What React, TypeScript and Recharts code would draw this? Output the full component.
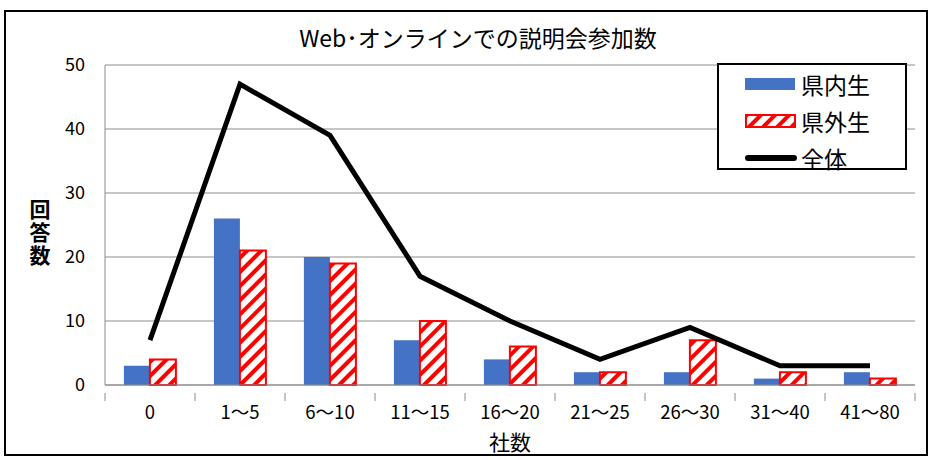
import { ComposedChart, Bar, Line, XAxis, YAxis, CartesianGrid } from "recharts";

const categories = ["0", "1〜5", "6〜10", "11〜15", "16〜20", "21〜25", "26〜30", "31〜40", "41〜80"];
const inPref = [3, 26, 20, 7, 4, 2, 2, 1, 2];
const outPref = [4, 21, 19, 10, 6, 2, 7, 2, 1];
const total = [7, 47, 39, 17, 10, 4, 9, 3, 3];
const yTicks = [0, 10, 20, 30, 40, 50];

const data = categories.map((name, i) => ({
  name,
  inPref: inPref[i],
  outPref: outPref[i],
  total: total[i],
}));

const FONT = '"Noto Sans CJK JP", "Noto Sans", sans-serif';
const GRID = "#8c8c8c";

if (typeof document !== "undefined") document.body.style.margin = "0";

function CategoryTick(props: any) {
  const { x, y, payload, index, visibleTicksCount } = props;
  const half = payload?.offset || 45;
  const last = index === (visibleTicksCount ?? categories.length) - 1;
  return (
    <g>
      <line x1={x - half} y1={y} x2={x - half} y2={y + 8} stroke={GRID} />
      {last && <line x1={x + half} y1={y} x2={x + half} y2={y + 8} stroke={GRID} />}
      <text x={x} y={y + 26} textAnchor="middle" fontSize={18.5} fill="#000" fontFamily={FONT}>
        {payload.value}
      </text>
    </g>
  );
}

function YTitle() {
  return (
    <text
      x={40}
      y={199}
      fontSize={21}
      fontWeight="bold"
      fill="#000"
      fontFamily={FONT}
      style={{ writingMode: "vertical-rl", letterSpacing: 2 }}
    >
      回答数
    </text>
  );
}

function LegendBox() {
  const row = { display: "flex", alignItems: "center", height: 37 } as const;
  return (
    <div
      style={{
        position: "absolute",
        left: 717,
        top: 63,
        width: 190,
        height: 107,
        border: "2px solid #000",
        background: "#fff",
        fontFamily: FONT,
        fontSize: 23,
        padding: "0 0 0 26px",
        boxSizing: "border-box",
      }}
    >
      <div style={row}>
        <svg width={54} height={14} style={{ marginRight: 2 }}>
          <rect x={0} y={1} width={50} height={12} fill="#4472C4" />
        </svg>
        <span>県内生</span>
      </div>
      <div style={row}>
        <svg width={54} height={14} style={{ marginRight: 2 }}>
          <defs>
            <pattern id="hatchL" width="10" height="10" patternUnits="userSpaceOnUse" patternTransform="rotate(45)">
              <rect width="10" height="10" fill="#fff" />
              <rect width="4" height="10" fill="#ff0000" />
            </pattern>
          </defs>
          <rect x={1} y={1} width={49} height={12} fill="url(#hatchL)" stroke="#ff0000" strokeWidth={2} />
        </svg>
        <span>県外生</span>
      </div>
      <div style={row}>
        <svg width={54} height={14} style={{ marginRight: 2 }}>
          <line x1={3} y1={7} x2={49} y2={7} stroke="#000" strokeWidth={6} strokeLinecap="round" />
        </svg>
        <span>全体</span>
      </div>
    </div>
  );
}

export default function App() {
  return (
    <div style={{ position: "relative", width: 934, height: 460, background: "#fff" }}>
      <div
        style={{
          position: "absolute",
          left: 4,
          top: 10,
          width: 924,
          height: 446,
          border: "2px solid #000",
          boxSizing: "border-box",
        }}
      />
      <div
        style={{
          position: "absolute",
          left: 0,
          top: 20,
          width: 956,
          textAlign: "center",
          fontFamily: FONT,
          fontSize: 23,
        }}
      >
        Web･オンラインでの説明会参加数
      </div>
      <div style={{ position: "absolute", left: 0, top: 0 }}>
        <ComposedChart
          width={934}
          height={460}
          data={data}
          margin={{ top: 65, right: 19, bottom: 0, left: 0 }}
          barGap={0}
          barCategoryGap="21%"
        >
          <defs>
            <pattern id="hatch" width="10" height="10" patternUnits="userSpaceOnUse" patternTransform="rotate(45)">
              <rect width="10" height="10" fill="#fff" />
              <rect width="4" height="10" fill="#ff0000" />
            </pattern>
          </defs>
          <CartesianGrid vertical={false} stroke={GRID} />
          <XAxis
            dataKey="name"
            axisLine={{ stroke: GRID }}
            tickLine={false}
            tick={<CategoryTick />}
            interval={0}
            height={75}
            label={{ value: "社数", position: "insideBottom", offset: 10, fontSize: 21, fill: "#000", fontFamily: FONT }}
          />
          <YAxis
            domain={[0, 50]}
            ticks={yTicks}
            width={105}
            axisLine={{ stroke: GRID }}
            tickLine={false}
            tickMargin={14}
            tick={{ fontSize: 18, fill: "#000", fontFamily: FONT }}
            label={<YTitle />}
          />
          <Bar dataKey="inPref" fill="#4472C4" isAnimationActive={false} />
          <Bar dataKey="outPref" fill="url(#hatch)" stroke="#ff0000" strokeWidth={2} isAnimationActive={false} />
          <Line dataKey="total" stroke="#000" strokeWidth={5} dot={false} type="linear" isAnimationActive={false} />
        </ComposedChart>
      </div>
      <LegendBox />
    </div>
  );
}
